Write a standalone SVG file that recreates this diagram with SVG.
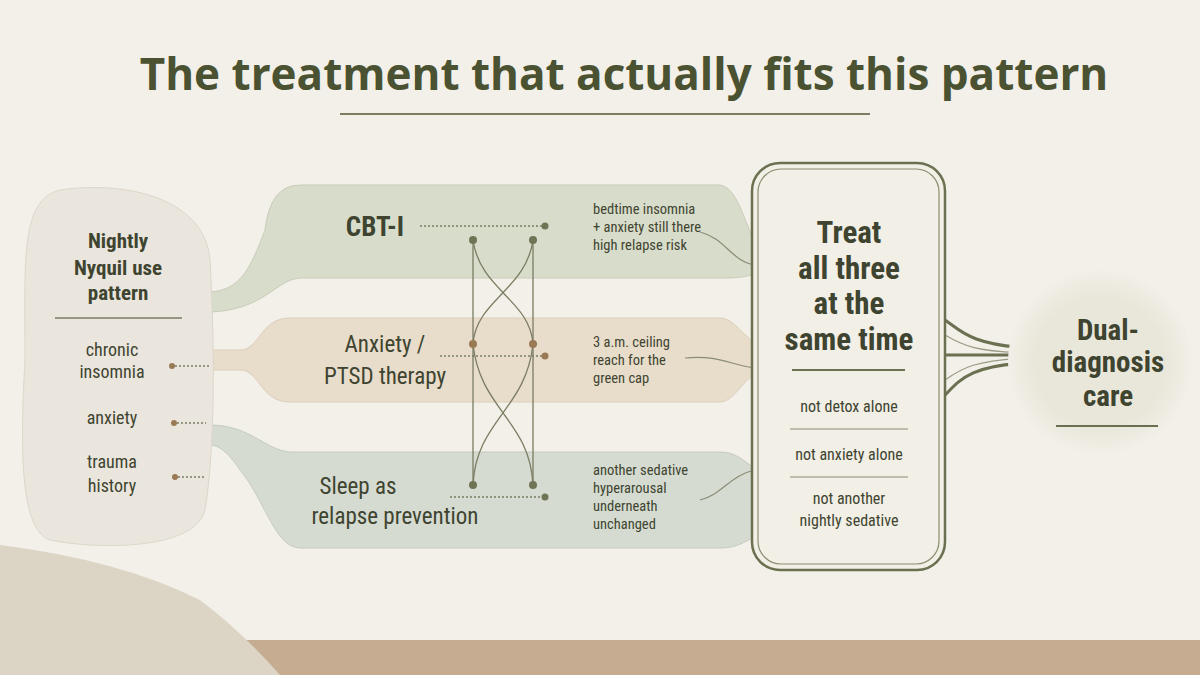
<svg xmlns="http://www.w3.org/2000/svg" width="1200" height="675" viewBox="0 0 1200 675">
<defs>
<style>
.t{font-family:"Liberation Sans Narrow","Roboto Condensed","Liberation Sans",sans-serif;fill:#3e4430}
.b{font-weight:bold}
.dot{fill:#6f7455}
.dotb{fill:#9a7a55}
.dl{stroke:#7a7d62;stroke-width:1.5;stroke-dasharray:2 2;fill:none}
.cl{stroke:#7a7d62;stroke-width:1.3;fill:none}
.fl{stroke:#8a8c75;stroke-width:1.2;fill:none}
</style>
<radialGradient id="cg" cx="0.5" cy="0.5" r="0.5"><stop offset="0.7" stop-color="#e9e7da"/><stop offset="1" stop-color="#f1efe7"/></radialGradient>
</defs>
<rect width="1200" height="675" fill="#f2f0e9"/>
<rect x="0" y="640" width="1200" height="35" fill="#c6ad92"/>
<path d="M0 545 Q120 560 200 600 Q240 630 280 675 L0 675 Z" fill="#dcd5c6"/>
<text class="t b" x="624" y="90" font-size="44" text-anchor="middle" style="font-family:'Open Sans','Liberation Sans',sans-serif;fill:#4a5232">The treatment that actually fits this pattern</text>
<line x1="340" y1="114" x2="870" y2="114" stroke="#7a7d62" stroke-width="2"/>

<g id="bands">
<path d="M210 292 C240 290 250 270 265 230 Q270 185 300 185 L720 185 C740 188 745 230 760 250 L760 272 C745 278 735 278 720 278 L300 278 C275 280 265 310 210 312 Z" fill="#d8dcca" stroke="#c8cdb8"/>
<path d="M210 350 L240 350 C260 350 260 318 290 318 L720 318 C735 318 745 340 760 345 L760 372 C745 375 735 402 720 402 L290 402 C260 402 260 370 240 370 L210 370 Z" fill="#e8dccb" stroke="#dccfbb"/>
<path d="M210 425 C250 425 265 450 290 452 L720 452 C740 452 745 465 760 470 L760 535 C745 540 740 548 720 548 L300 548 C275 548 265 500 240 470 C230 455 220 445 210 445 Z" fill="#d5dbd0" stroke="#c6ccc1"/>
</g>

<g id="source">
<path d="M60 190 C130 180 205 200 210 260 C215 350 215 450 205 510 C195 550 100 550 50 540 C20 530 20 450 25 360 C25 260 20 200 60 190 Z" fill="#ebe6dd" stroke="#ddd6ca"/>
<text class="t b" x="118" y="248" font-size="21" text-anchor="middle">Nightly</text>
<text class="t b" x="118" y="275" font-size="21" text-anchor="middle">Nyquil use</text>
<text class="t b" x="118" y="300" font-size="21" text-anchor="middle">pattern</text>
<line x1="55" y1="318" x2="182" y2="318" stroke="#7a7d62" stroke-width="1.5"/>
<text class="t" x="112" y="356" font-size="18" text-anchor="middle">chronic</text>
<text class="t" x="112" y="378" font-size="18" text-anchor="middle">insomnia</text>
<text class="t" x="112" y="424" font-size="18" text-anchor="middle">anxiety</text>
<text class="t" x="112" y="468" font-size="18" text-anchor="middle">trauma</text>
<text class="t" x="112" y="492" font-size="18" text-anchor="middle">history</text>
<circle class="dotb" cx="172" cy="366" r="3"/><circle class="dotb" cx="174" cy="423" r="3"/><circle class="dotb" cx="175" cy="477" r="3"/>
</g>

<g id="connectors">
<path class="dl" d="M175 366 H210 M177 423 H206 M178 477 H204"/>
<path class="dl" d="M420 226 H545 M440 356 H545 M450 497 H545"/>
<path class="cl" d="M473 240 V485 M533 240 V485"/>
<path class="cl" d="M473 240 C480 290 530 300 533 344 M533 240 C526 290 476 300 473 344 M473 344 C480 410 530 420 533 485 M533 344 C526 410 476 420 473 485"/>
<path class="fl" d="M700 232 C725 238 732 262 755 265 M685 358 C720 355 730 365 755 368 M700 500 C722 495 730 475 755 470"/>
<path d="M945 320 C960 330 970 345 1030 348 M945 355 H1030 M945 395 C960 380 970 365 1030 363" stroke="#6b7050" stroke-width="3" fill="none"/>
<path d="M945 335 C962 345 975 352 1030 353 M945 380 C962 368 975 360 1030 358" stroke="#9a9c86" stroke-width="1.2" fill="none"/>
<circle class="dot" cx="545" cy="226" r="3.5"/><circle class="dotb" cx="545" cy="356" r="3.5"/><circle class="dot" cx="545" cy="497" r="3.5"/>
<circle class="dot" cx="473" cy="240" r="4"/><circle class="dot" cx="533" cy="240" r="4"/>
<circle class="dotb" cx="473" cy="344" r="4"/><circle class="dotb" cx="533" cy="344" r="4"/>
<circle class="dot" cx="473" cy="485" r="4"/><circle class="dot" cx="533" cy="485" r="4"/>
</g>

<g id="cbt"><text class="t b" x="375" y="236" font-size="27" text-anchor="middle">CBT-I</text></g>
<g id="anx"><text class="t" x="385" y="352" font-size="23" text-anchor="middle">Anxiety /</text><text class="t" x="385" y="384" font-size="23" text-anchor="middle">PTSD therapy</text></g>
<g id="sleep"><text class="t" x="358" y="494" font-size="23" text-anchor="middle">Sleep as</text><text class="t" x="395" y="524" font-size="23" text-anchor="middle">relapse prevention</text></g>

<g id="notes" font-size="14.5">
<text class="t" x="593" y="214">bedtime insomnia</text><text class="t" x="593" y="232">+ anxiety still there</text><text class="t" x="593" y="250">high relapse risk</text>
<text class="t" x="593" y="347">3 a.m. ceiling</text><text class="t" x="593" y="365">reach for the</text><text class="t" x="593" y="383">green cap</text>
<text class="t" x="593" y="475">another sedative</text><text class="t" x="593" y="493">hyperarousal</text><text class="t" x="593" y="511">underneath</text><text class="t" x="593" y="529">unchanged</text>
</g>

<g id="center">
<rect x="752" y="163" width="193" height="407" rx="28" fill="#f2efe6" stroke="#6b7050" stroke-width="2.5"/>
<rect x="758" y="169" width="181" height="395" rx="23" fill="none" stroke="#8a8c70" stroke-width="1.2"/>
<text class="t b" x="849" y="243" font-size="31" text-anchor="middle">Treat</text>
<text class="t b" x="849" y="279" font-size="31" text-anchor="middle">all three</text>
<text class="t b" x="849" y="314" font-size="31" text-anchor="middle">at the</text>
<text class="t b" x="849" y="350" font-size="31" text-anchor="middle">same time</text>
<line x1="792" y1="370" x2="905" y2="370" stroke="#6b7050" stroke-width="2"/>
<text class="t" x="849" y="412" font-size="16" text-anchor="middle">not detox alone</text>
<line x1="790" y1="429" x2="908" y2="429" stroke="#8a8c75" stroke-width="1"/>
<text class="t" x="849" y="460" font-size="16" text-anchor="middle">not anxiety alone</text>
<line x1="790" y1="477" x2="908" y2="477" stroke="#8a8c75" stroke-width="1"/>
<text class="t" x="849" y="504" font-size="16" text-anchor="middle">not another</text>
<text class="t" x="849" y="526" font-size="16" text-anchor="middle">nightly sedative</text>
</g>

<g id="care">
<circle cx="1100" cy="362" r="92" fill="url(#cg)"/>
<text class="t b" x="1108" y="340" font-size="29" text-anchor="middle">Dual-</text>
<text class="t b" x="1108" y="372" font-size="29" text-anchor="middle">diagnosis</text>
<text class="t b" x="1108" y="406" font-size="29" text-anchor="middle">care</text>
<line x1="1056" y1="426" x2="1158" y2="426" stroke="#6b7050" stroke-width="1.8"/>
</g>
</svg>
